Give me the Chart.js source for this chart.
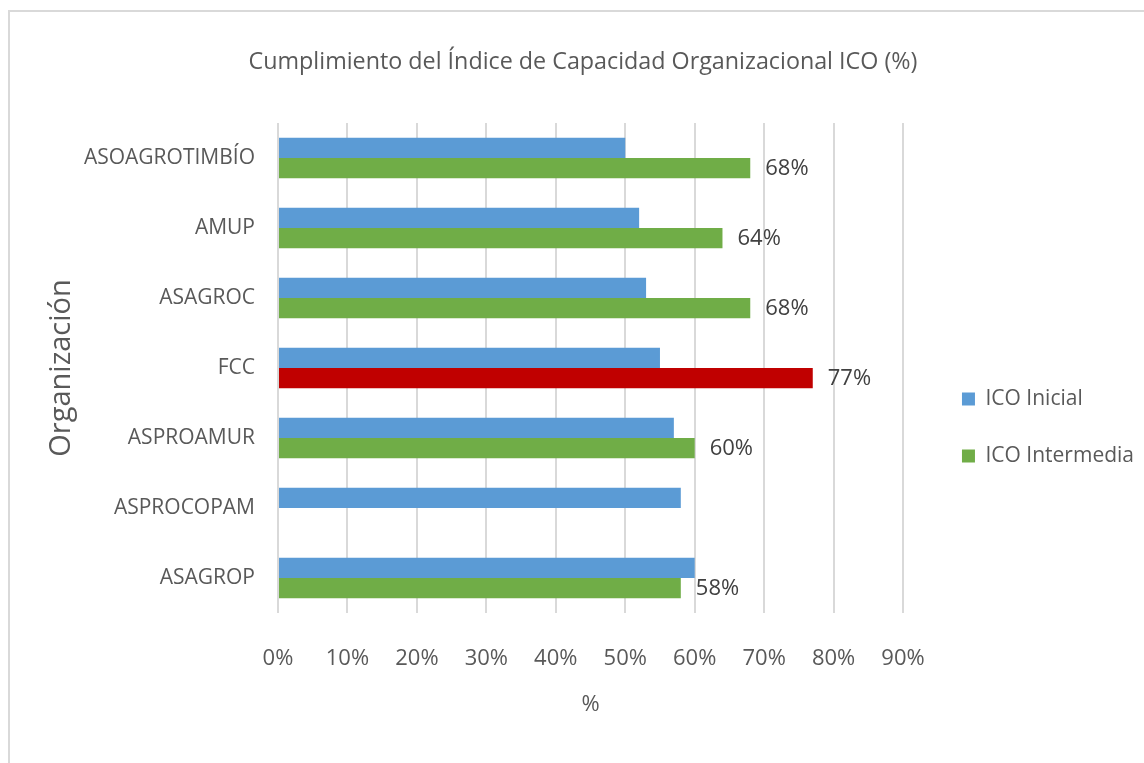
<!DOCTYPE html>
<html>
<head>
<meta charset="utf-8">
<script src="https://cdn.jsdelivr.net/npm/chart.js@4"></script>
<style>
  html, body { margin: 0; padding: 0; background: #fff; }
  #wrap { position: relative; width: 1144px; height: 763px; overflow: hidden; }
  #frame { position: absolute; left: 8px; top: 10px; width: 1140px; height: 760px; border: 2px solid #D9D9D9; box-sizing: border-box; }
  canvas { position: absolute; left: 0; top: 0; }
</style>
</head>
<body>
<div id="wrap">
  <div id="frame"></div>
  <canvas id="ico-chart" width="1144" height="763"></canvas>
</div>
<script>
// DATA
const organizaciones = ["ASOAGROTIMBÍO", "AMUP", "ASAGROC", "FCC", "ASPROAMUR", "ASPROCOPAM", "ASAGROP"]
const icoInicial = [0.50, 0.52, 0.53, 0.55, 0.57, 0.58, 0.60]
const icoIntermedia = [0.68, 0.64, 0.68, 0.77, 0.60, null, 0.58]
const xTicks = [0, 0.1, 0.2, 0.3, 0.4, 0.5, 0.6, 0.7, 0.8, 0.9]
const xTitle = "%"
const destacada = "FCC"

const FONT = "'Open Sans', sans-serif"
const TEXT = "#595959"
const BLUE = "#5B9BD5"
const GREEN = "#70AD47"
const RED = "#C00000"

const fmtPct = (v) => Math.round(v * 100) + "%"

// labels at the end of the ICO Intermedia bars + x title centred under 0-90%
const endLabels = {
  id: "endLabels",
  afterDatasetsDraw(chart) {
    const ctx = chart.ctx
    const meta = chart.getDatasetMeta(1)
    ctx.save()
    ctx.font = "22px " + FONT
    ctx.fillStyle = "#404040"
    ctx.textAlign = "left"
    ctx.textBaseline = "middle"
    meta.data.forEach((bar, i) => {
      const v = icoIntermedia[i]
      if (v == null) return
      ctx.fillText(fmtPct(v), bar.x + 15, bar.y + 1)
    })

    const xs = chart.scales.x
    const cx = (xs.getPixelForValue(xTicks[0]) + xs.getPixelForValue(xTicks[xTicks.length - 1])) / 2
    ctx.fillStyle = TEXT
    ctx.textAlign = "center"
    ctx.fillText(xTitle, cx, chart.chartArea.bottom + 92)
    ctx.restore()
  },
}

const icoCanvas = document.getElementById("ico-chart")

const icoData = {
  labels: organizaciones,
  datasets: [
    {
      label: "ICO Inicial",
      data: icoInicial,
      backgroundColor: BLUE,
    },
    {
      label: "ICO Intermedia",
      data: icoIntermedia,
      backgroundColor: (c) =>
        c.type === "data" && organizaciones[c.dataIndex] === destacada ? RED : GREEN,
    },
  ],
}

const icoOptions = {
  indexAxis: "y",
  responsive: false,
  animation: false,
  devicePixelRatio: 1,
  layout: {
    padding: { top: 30, left: 22, right: 0, bottom: 28 },
  },
  datasets: {
    bar: {
      categoryPercentage: 0.58,
      barPercentage: 1.0,
    },
  },
  scales: {
    x: {
      min: 0,
      max: 0.933, // leaves room before the legend, only 0-90% get ticks
      afterBuildTicks(scale) {
        scale.ticks = xTicks.map((v) => ({ value: v }))
      },
      afterFit(scale) {
        scale.height = 122
      },
      ticks: {
        callback: (v) => fmtPct(v),
        color: TEXT,
        font: { family: FONT, size: 22 },
        padding: 33,
        maxRotation: 0,
      },
      grid: {
        color: "#D9D9D9",
        lineWidth: 2,
        drawTicks: false,
      },
      border: { display: false },
    },
    y: {
      afterFit(scale) {
        scale.width = 278 - 22
      },
      ticks: {
        color: TEXT,
        font: { family: FONT, size: 21 },
        padding: 15,
      },
      grid: { display: false },
      border: { display: false },
      title: {
        display: true,
        text: "Organización",
        color: TEXT,
        font: { family: FONT, size: 29 },
        padding: { top: 22, bottom: 0 },
      },
    },
  },
  plugins: {
    title: {
      display: true,
      text: "Cumplimiento del Índice de Capacidad Organizacional ICO (%)",
      color: TEXT,
      font: { family: FONT, size: 23.3, weight: "normal" },
      padding: { top: 18, bottom: 47 },
    },
    legend: {
      position: "right",
      align: "center",
      title: {
        display: true,
        text: " ",
        font: { size: 10 },
        padding: { top: 0, bottom: 78 },
      },
      labels: {
        color: TEXT,
        font: { family: FONT, size: 21 },
        boxWidth: 13,
        boxHeight: 13,
        padding: 36,
      },
    },
    tooltip: { enabled: false },
  },
}

let icoChart = new Chart(icoCanvas, {
  type: "bar",
  data: icoData,
  options: icoOptions,
  plugins: [endLabels],
})
</script>
</body>
</html>
